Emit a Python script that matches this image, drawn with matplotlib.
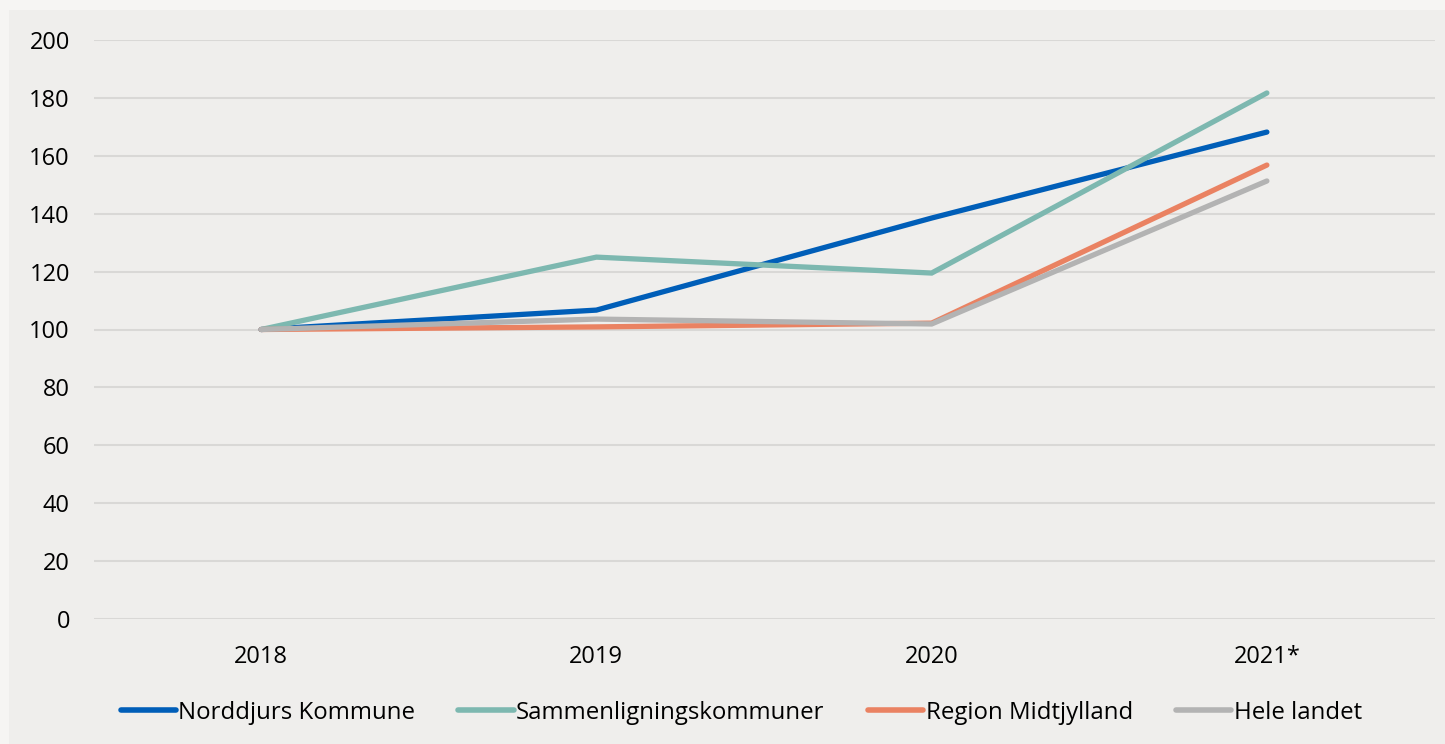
import matplotlib
matplotlib.use("Agg")
import matplotlib.pyplot as plt
from matplotlib.patches import Rectangle

years = ["2018", "2019", "2020", "2021*"]
norddjurs = [100, 106.7, 138.5, 168.2]
sammen = [100, 125.0, 119.5, 181.7]
region = [100, 100.9, 102.2, 156.8]
hele = [100, 103.6, 101.9, 151.3]

series = [
    ("Norddjurs Kommune", norddjurs, "#005EB8"),
    ("Sammenligningskommuner", sammen, "#7DB8B0"),
    ("Region Midtjylland", region, "#EA8262"),
    ("Hele landet", hele, "#B3B3B3"),
]
yticks = list(range(0, 201, 20))

plt.rcParams["font.family"] = ["Open Sans", "DejaVu Sans"]

fig = plt.figure(figsize=(14.45, 7.44), dpi=100)
fig.patch.set_facecolor("#F6F5F3")
fig.patches.append(Rectangle((9 / 1445, 0), 1, 1 - 10 / 744, transform=fig.transFigure,
                             facecolor="#EFEEEC", edgecolor="none", zorder=-10))

ax = fig.add_axes([93.5 / 1445, 1 - 619 / 744, (1434.5 - 93.5) / 1445, (619 - 40) / 744])
ax.set_zorder(5)
ax.set_facecolor("none")
x = list(range(len(years)))
for name, vals, col in series:
    ax.plot(x, vals, color=col, lw=3.8, label=name, solid_capstyle="round",
            solid_joinstyle="miter", clip_on=False, zorder=3)

ax.set_xlim(-0.5, 3.5)
ax.set_ylim(0, 200)
ax.set_yticks(yticks)
ax.set_yticklabels([str(v) for v in yticks])
ax.set_xticks(x)
ax.set_xticklabels(years)
ax.grid(axis="y", color="#D9D8D6", lw=1.5)
ax.set_axisbelow(True)
for s in ax.spines.values():
    s.set_visible(False)
ax.tick_params(axis="both", length=0, labelsize=17, colors="black")
ax.tick_params(axis="y", pad=17)
ax.tick_params(axis="x", pad=19)

leg = ax.legend(loc="center", bbox_to_anchor=(0.483, -0.162), ncol=4, frameon=False,
                fontsize=17.3, handlelength=2.3, handletextpad=0.1, columnspacing=1.8)
for h in leg.get_lines():
    h.set_linewidth(4)

fig.savefig("out.png", dpi=100, facecolor=fig.get_facecolor())
